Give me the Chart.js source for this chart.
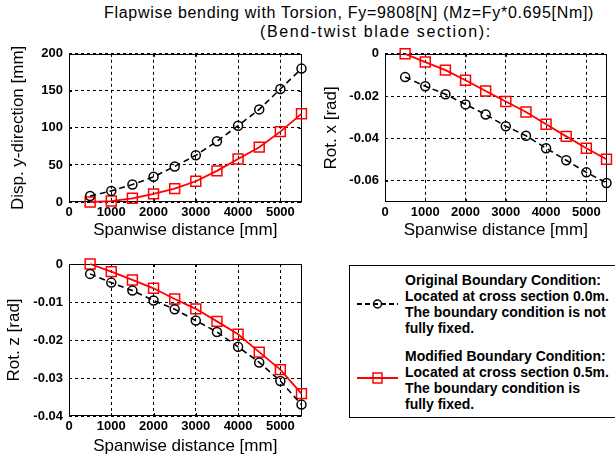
<!DOCTYPE html>
<html>
<head>
<meta charset="utf-8">
<script src="https://cdn.jsdelivr.net/npm/chart.js@4.4.1/dist/chart.umd.min.js"></script>
<style>
  body { margin: 0; background: #fff; }
  #page { position: relative; width: 615px; height: 459px; overflow: hidden; font-family: "Liberation Sans", Arial, sans-serif; color: #000; }
  .plot { position: absolute; }
  .title { position: absolute; font-size: 16px; line-height: 18px; white-space: nowrap; }
  #legend { position: absolute; left: 349px; top: 265px; width: 280px; height: 153px; border: 1px solid #000; box-sizing: border-box; }
  .entry { position: absolute; left: 55px; font-weight: bold; font-size: 14px; line-height: 16px; white-space: nowrap; }
  #legendMarks { position: absolute; left: 0; top: 0; }
</style>
</head>
<body>
<div id="page">
  <div class="title" style="left:104px; top:4px; letter-spacing:0.7px;">Flapwise bending with Torsion, Fy=9808[N] (Mz=Fy*0.695[Nm])</div>
  <div class="title" style="left:260px; top:23px; letter-spacing:1.6px;">(Bend-twist blade section):</div>

  <canvas id="dispChart" class="plot" style="left:0; top:40px;" width="310" height="210"></canvas>
  <canvas id="rotXChart" class="plot" style="left:310px; top:40px;" width="305" height="210"></canvas>
  <canvas id="rotZChart" class="plot" style="left:0; top:250px;" width="310" height="209"></canvas>

  <div id="legend">
    <svg id="legendMarks" width="280" height="153">
      <line x1="7" y1="38" x2="48" y2="38" stroke="#000" stroke-width="2" stroke-dasharray="5,3"/>
      <circle cx="27.5" cy="38" r="4" fill="none" stroke="#000" stroke-width="1.5"/>
      <line x1="7" y1="112" x2="48" y2="112" stroke="#f00" stroke-width="2"/>
      <rect x="23" y="107" width="9" height="10" fill="none" stroke="#f00" stroke-width="1.5"/>
    </svg>
    <div class="entry" style="top:6px;">Original Boundary Condition:<br>Located at cross section 0.0m.<br>The boundary condition is not<br>fully fixed.</div>
    <div class="entry" style="top:82px;">Modified Boundary Condition:<br>Located at cross section 0.5m.<br>The boundary condition is<br>fully fixed.</div>
  </div>
</div>

<script>
// spanwise stations [mm]
const spanX = [500, 1000, 1500, 2000, 2500, 3000, 3500, 4000, 4500, 5000, 5500];

// displacement in y-direction [mm]
const dispOriginal = [8, 15, 23.5, 34, 48, 63, 82, 103, 125, 152.5, 180];
const dispModified = [0, 1.3, 5, 11, 18, 28, 42, 58, 74, 95, 119];

// rotation about x [rad]
const rotXOriginal = [-0.0110, -0.0153, -0.0191, -0.0239, -0.0287, -0.0342, -0.0387, -0.0446, -0.0503, -0.0560, -0.0610];
const rotXModified = [0, -0.0039, -0.0077, -0.0125, -0.0176, -0.0225, -0.0275, -0.0333, -0.0390, -0.0446, -0.0498];

// rotation about z [rad]
const rotZOriginal = [-0.0026, -0.0049, -0.0070, -0.0096, -0.0119, -0.0149, -0.0179, -0.0218, -0.0259, -0.0308, -0.0370];
const rotZModified = [0, -0.0020, -0.0042, -0.0064, -0.0092, -0.0118, -0.0151, -0.0185, -0.0232, -0.0278, -0.0341];

const xTicks = [0, 1000, 2000, 3000, 4000, 5000];
const dispTicks = [0, 50, 100, 150, 200];
const rotXTicks = [-0.06, -0.04, -0.02, 0];
const rotZTicks = [-0.04, -0.03, -0.02, -0.01, 0];

const FONT = '"Liberation Sans", Arial, sans-serif';

// box around the plot area with small inward tick marks
const frame = {
  id: 'frame',
  beforeDatasetsDraw(chart) {
    const { ctx, chartArea: a, scales } = chart;
    ctx.save();
    ctx.strokeStyle = '#000';
    ctx.lineWidth = 1;
    ctx.setLineDash([]);
    ctx.beginPath();
    scales.x.ticks.forEach(t => {
      const px = Math.round(scales.x.getPixelForValue(t.value)) + 0.5;
      ctx.moveTo(px, a.top); ctx.lineTo(px, a.top + 3);
      ctx.moveTo(px, a.bottom); ctx.lineTo(px, a.bottom - 3);
    });
    scales.y.ticks.forEach(t => {
      const py = Math.round(scales.y.getPixelForValue(t.value)) + 0.5;
      ctx.moveTo(a.left, py); ctx.lineTo(a.left + 3, py);
      ctx.moveTo(a.right, py); ctx.lineTo(a.right - 3, py);
    });
    ctx.stroke();
    ctx.strokeRect(Math.round(a.left) + 0.5, Math.round(a.top) + 0.5,
                   Math.round(a.right - a.left) - 1, Math.round(a.bottom - a.top) - 1);
    ctx.restore();
  }
};

function points(values) {
  return spanX.map((x, i) => ({ x: x, y: values[i] }));
}

function drawPlot(id, yLabel, original, modified, yMin, yMax, yTicks, g) {
  const tickFont = { family: FONT, size: 13, weight: 'bold' };
  const titleFont = { family: FONT, size: 17 };
  new Chart(id, {
    type: 'line',
    data: {
      datasets: [{
        data: points(original),
        borderColor: '#000',
        borderWidth: 1.6,
        borderDash: [6, 4],
        pointStyle: 'circle',
        pointRadius: 4.5,
        pointBorderWidth: 1.5,
        pointBorderColor: '#000',
        pointBackgroundColor: 'rgba(0,0,0,0)',
        tension: 0,
        clip: false
      }, {
        data: points(modified),
        borderColor: '#f00',
        borderWidth: 1.8,
        pointStyle: 'rect',
        pointRadius: 7,
        pointBorderWidth: 1.5,
        pointBorderColor: '#f00',
        pointBackgroundColor: 'rgba(0,0,0,0)',
        tension: 0,
        clip: false
      }]
    },
    options: {
      responsive: false,
      animation: false,
      layout: { padding: { top: g.top, right: g.right, left: 0, bottom: 0 } },
      plugins: { legend: { display: false }, tooltip: { enabled: false } },
      scales: {
        x: {
          type: 'linear',
          min: 0,
          max: 5500,
          afterBuildTicks: s => { s.ticks = xTicks.map(v => ({ value: v })); },
          afterFit: s => { s.height = g.xHeight; },
          grid: { color: '#000', lineWidth: 1, drawTicks: false },
          border: { display: false, dash: [3, 3] },
          ticks: { color: '#000', font: tickFont, padding: 3, maxRotation: 0, autoSkip: false,
                   callback: v => String(v) },
          title: { display: true, text: 'Spanwise distance [mm]', color: '#000', font: titleFont,
                   padding: { top: 0, bottom: g.xTitlePad } }
        },
        y: {
          type: 'linear',
          min: yMin,
          max: yMax,
          afterBuildTicks: s => { s.ticks = yTicks.map(v => ({ value: v })); },
          afterFit: s => { s.width = g.yWidth; },
          grid: { color: '#000', lineWidth: 1, drawTicks: false },
          border: { display: false, dash: [3, 3] },
          ticks: { color: '#000', font: tickFont, padding: 6, autoSkip: false,
                   callback: v => (v === 0 ? '0' : String(v)) },
          title: { display: true, text: yLabel, color: '#000', font: titleFont,
                   padding: { top: g.yTitlePad, bottom: 0 } }
        }
      }
    },
    plugins: [frame]
  });
}

drawPlot('dispChart', 'Disp. y-direction [mm]', dispOriginal, dispModified, 0, 200, dispTicks,
  { top: 11, right: 5, yWidth: 69, xHeight: 48, yTitlePad: 8, xTitlePad: 9 });
drawPlot('rotXChart', 'Rot. x [rad]', rotXOriginal, rotXModified, -0.07, 0, rotXTicks,
  { top: 11, right: 2, yWidth: 75, xHeight: 48, yTitlePad: 11, xTitlePad: 9 });
drawPlot('rotZChart', 'Rot. z [rad]', rotZOriginal, rotZModified, -0.04, 0, rotZTicks,
  { top: 14, right: 5, yWidth: 69, xHeight: 43, yTitlePad: 4, xTitlePad: 2 });
</script>
</body>
</html>
